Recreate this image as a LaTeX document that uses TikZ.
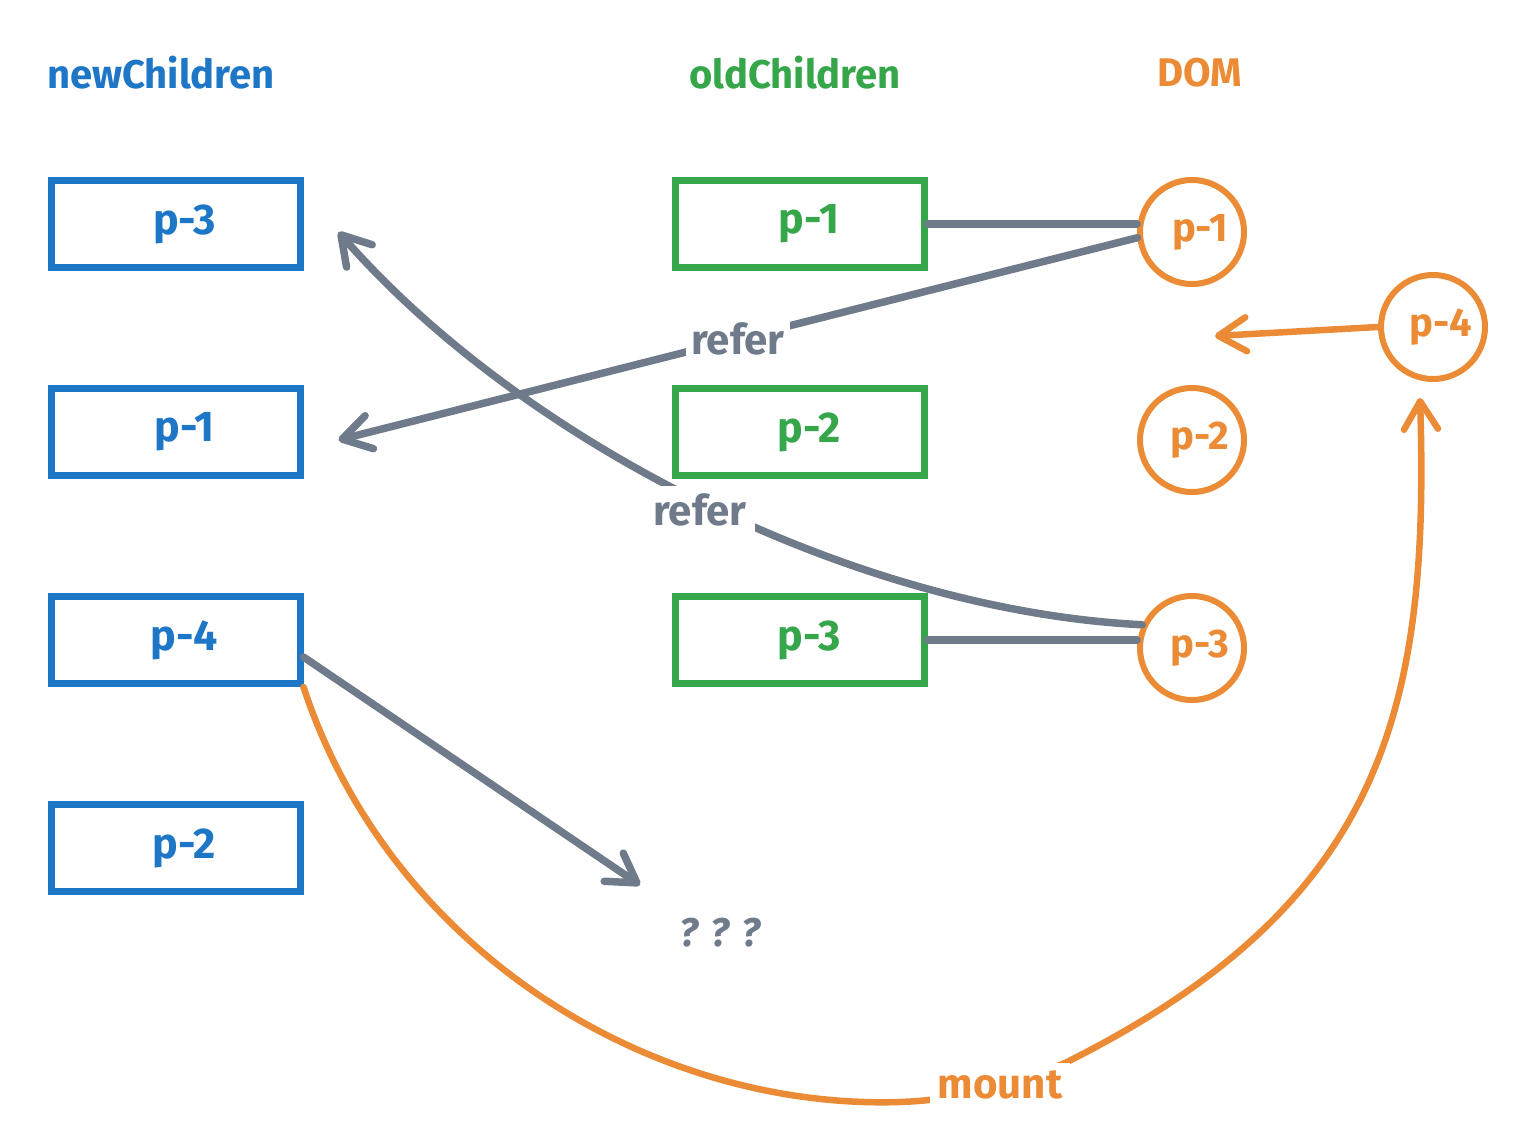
\documentclass[tikz,border=0pt]{standalone}
\usepackage{fontspec}
\setmainfont{Fira Sans}
\usetikzlibrary{arrows.meta}
\definecolor{cblue}{HTML}{1E77C6}
\definecolor{cgreen}{HTML}{36A64A}
\definecolor{corange}{HTML}{EC8B35}
\definecolor{cgray}{HTML}{6F7B8A}
\tikzset{
  title/.style={font=\fontsize{40}{48}\selectfont\bfseries},
  lbl/.style={font=\fontsize{43}{48}\selectfont\bfseries,execute at begin node=\hspace*{18pt}},
  nbox/.style={draw=cblue,text=cblue,line width=7pt,minimum width=249pt,minimum height=87pt,lbl},
  obox/.style={draw=cgreen,text=cgreen,line width=7pt,minimum width=249pt,minimum height=87pt,lbl},
  dcirc/.style={circle,draw=corange,text=corange,line width=6pt,minimum size=104pt,inner sep=0pt,
    font=\fontsize{40}{44}\selectfont\bfseries,execute at begin node=\hspace*{16pt}},
  gline/.style={draw=cgray,line width=7.5pt,line cap=round},
  oline/.style={draw=corange,line width=6.5pt,line cap=round},
  barb/.style={-{Straight Barb[length=28pt,width=34pt,round]}},
  tag/.style={fill=white,inner sep=5pt,font=\fontsize{42}{48}\selectfont\bfseries},
}
\begin{document}
\begin{tikzpicture}[x=1pt,y=-1pt]
\useasboundingbox (0,0) rectangle (1520,1134);
% titles
\node[title,text=cblue] (tn) at (161,73) {newChildren};
\node[title,text=cgreen] (to) at (795,73) {oldChildren};
\node[title,text=corange] (td) at (1200,73) {DOM};
% new children
\node[nbox] (b1) at (175.5,224) {p-3};
\node[nbox] (b2) at (175.5,432) {p-1};
\node[nbox] (b3) at (175.5,640) {p-4};
\node[nbox] (b4) at (175.5,848) {p-2};
% old children
\node[obox] (g1) at (800,224) {p-1};
\node[obox] (g2) at (800,432) {p-2};
\node[obox] (g3) at (800,640) {p-3};
% DOM
\node[dcirc] (d1) at (1192,232) {p-1};
\node[dcirc] (d4) at (1433,327) {p-4};
\node[dcirc] (d2) at (1192,440) {p-2};
\node[dcirc] (d3) at (1192,648) {p-3};
% unknown
\node[font=\fontsize{40}{44}\selectfont\bfseries\itshape,text=cgray] (q) at (720,933) {? ? ?};
\coordinate (qtip) at (640,885);
\coordinate (otip) at (1215,336);
\coordinate (mtip) at (1420,398);
% connectors
\draw[gline] (g1.east) -- (g1.east -| d1.west);
\draw[gline] (g3.east) -- (g3.east -| d3.west);
\draw[gline,barb] (d1.186) -- ([xshift=35pt,yshift=-8pt]b2.east)
  node[tag,text=cgray,pos=0.5] (r1) {refer};
\draw[gline,barb] (d3.155) .. controls (850,610) and (520,440) .. ([xshift=35pt,yshift=-8pt]b1.east);
\node[tag,text=cgray,inner sep=8pt] (r2) at (700,510) {refer};
\draw[gline,barb] ([yshift=-17pt]b3.east) -- (qtip);
\draw[oline,barb] (d4.west) -- (otip);
\draw[oline,barb] (b3.south east) .. controls (390,950) and (650,1110) .. (900,1102)
  .. controls (960,1100) and (1010,1085) .. (1065,1063)
  .. controls (1381,905) and (1430,714) .. (mtip);
\node[tag,text=corange,inner sep=8pt] (mt) at (1000,1085) {mount};
\end{tikzpicture}
\end{document}
